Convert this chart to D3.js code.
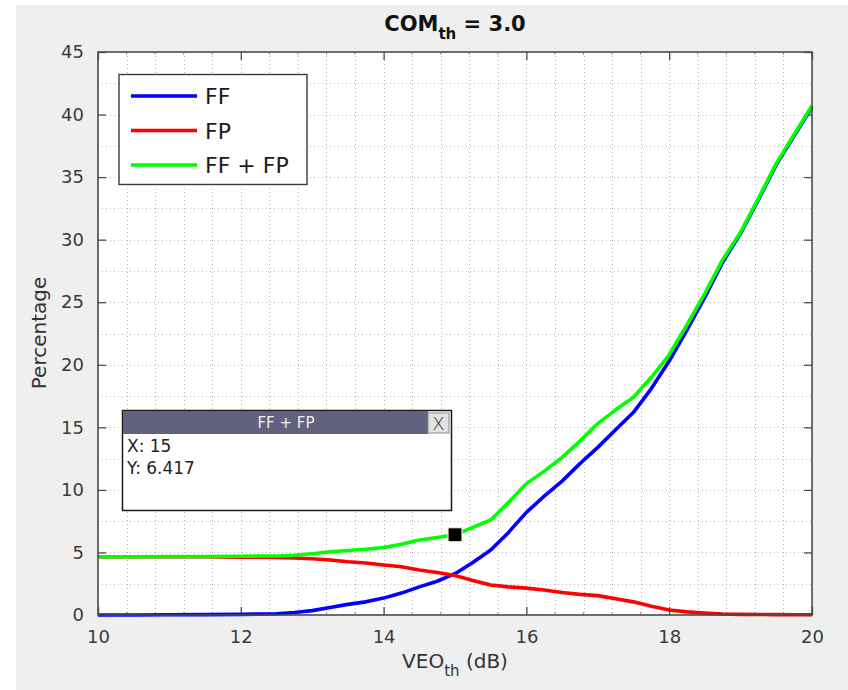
<!DOCTYPE html>
<html>
<head>
<meta charset="utf-8">
<script src="https://cdn.jsdelivr.net/npm/d3@7"></script>
<style>
  html, body { margin: 0; padding: 0; background: #ffffff; }
  svg { display: block; }
  text { font-family: "DejaVu Sans", sans-serif; }
</style>
</head>
<body>
<svg id="chart" width="848" height="690"></svg>
<script>
// Threshold values (dB)
const veo = [10, 10.5, 11, 11.5, 12, 12.5, 12.75, 13, 13.25, 13.5, 13.75, 14, 14.25, 14.5, 14.75, 15,
  15.25, 15.5, 15.75, 16, 16.25, 16.5, 16.75, 17, 17.25, 17.5, 17.75, 18, 18.25, 18.5, 18.75, 19,
  19.25, 19.5, 19.75, 20];
// False fusion rate (%)
const ff = [0, 0, 0.02, 0.03, 0.05, 0.1, 0.2, 0.35, 0.6, 0.85, 1.05, 1.35, 1.75, 2.25, 2.7, 3.3,
  4.2, 5.2, 6.6, 8.2, 9.5, 10.7, 12.1, 13.4, 14.8, 16.2, 18.1, 20.3, 22.8, 25.4, 28.2, 30.5,
  33.2, 36.0, 38.3, 40.6];
// False partition rate (%)
const fp = [4.65, 4.65, 4.65, 4.65, 4.62, 4.6, 4.55, 4.5, 4.4, 4.25, 4.15, 4.0, 3.85, 3.6, 3.4, 3.15,
  2.75, 2.4, 2.25, 2.15, 2.0, 1.8, 1.65, 1.55, 1.3, 1.05, 0.7, 0.4, 0.25, 0.15, 0.08, 0.05,
  0.04, 0.03, 0.02, 0.02];
// Combined rate (%)
const ffPlusFp = [4.65, 4.65, 4.67, 4.68, 4.7, 4.72, 4.78, 4.9, 5.05, 5.15, 5.25, 5.4, 5.65, 6.0, 6.2, 6.417,
  7.0, 7.6, 9.0, 10.5, 11.5, 12.6, 13.9, 15.3, 16.4, 17.4, 19.0, 20.8, 23.2, 25.7, 28.4, 30.6,
  33.3, 36.1, 38.4, 40.7];

const seriesNames = ["FF", "FP", "FF + FP"];
const seriesColors = ["#0000ff", "#ff0000", "#00ff00"];
const seriesValues = [ff, fp, ffPlusFp];

const xTicks = [10, 12, 14, 16, 18, 20];
const yTicks = [0, 5, 10, 15, 20, 25, 30, 35, 40, 45];

// Data cursor point
const cursorX = 15;
const cursorY = 6.417;

const svg = d3.select("#chart");
const W = 848, H = 690;
const m = { left: 98, right: 812, top: 52, bottom: 615 };

// figure background
svg.append("rect").attr("x", 16).attr("y", 5).attr("width", W - 16).attr("height", H - 5)
  .attr("fill", "#efefef");

const x = d3.scaleLinear().domain([10, 20]).range([m.left, m.right]);
const y = d3.scaleLinear().domain([0, 45]).range([m.bottom, m.top]);

// axes area
svg.append("rect").attr("x", m.left).attr("y", m.top)
  .attr("width", m.right - m.left).attr("height", m.bottom - m.top).attr("fill", "#ffffff");

// minor grid
const xMinor = d3.range(10, 20.001, 0.4);
const yMinor = d3.range(0, 45.001, 2.5);
const grid = svg.append("g").attr("stroke", "#b5b5b5").attr("stroke-width", 1)
  .attr("stroke-dasharray", "1,3");
grid.selectAll("line.gx").data(xMinor.slice(1, -1)).join("line").attr("class", "gx")
  .attr("x1", d => Math.round(x(d)) + 0.5).attr("x2", d => Math.round(x(d)) + 0.5)
  .attr("y1", m.top).attr("y2", m.bottom);
grid.selectAll("line.gy").data(yMinor.slice(1, -1)).join("line").attr("class", "gy")
  .attr("y1", d => Math.round(y(d)) + 0.5).attr("y2", d => Math.round(y(d)) + 0.5)
  .attr("x1", m.left).attr("x2", m.right);

// axes with inward ticks
const tickColor = "#4a4a4a";
function styleAxis(g) {
  g.select(".domain").remove();
  g.selectAll(".tick line").attr("stroke", tickColor).attr("stroke-width", 1.3);
  g.selectAll(".tick text").attr("fill", "#3a3a3a").style("font-size", "18px");
}
svg.append("g").attr("transform", `translate(0,${m.bottom})`)
  .call(d3.axisBottom(x).tickValues(xTicks).tickFormat(d3.format("d")).tickSizeInner(-8).tickPadding(15))
  .call(styleAxis);
svg.append("g").attr("transform", `translate(0,${m.top})`)
  .call(d3.axisTop(x).tickValues(xTicks).tickFormat("").tickSizeInner(-8))
  .call(styleAxis);
svg.append("g").attr("transform", `translate(${m.left},0)`)
  .call(d3.axisLeft(y).tickValues(yTicks).tickFormat(d3.format("d")).tickSizeInner(-8).tickPadding(14))
  .call(styleAxis);
svg.append("g").attr("transform", `translate(${m.right},0)`)
  .call(d3.axisRight(y).tickValues(yTicks).tickFormat("").tickSizeInner(-8))
  .call(styleAxis);
// minor ticks on top and bottom
const minorT = svg.append("g").attr("stroke", "#9a9a9a").attr("stroke-width", 1);
xMinor.filter(v => Math.abs(v / 2 - Math.round(v / 2)) > 1e-6).forEach(v => {
  minorT.append("line").attr("x1", x(v)).attr("x2", x(v)).attr("y1", m.top).attr("y2", m.top + 3);
  minorT.append("line").attr("x1", x(v)).attr("x2", x(v)).attr("y1", m.bottom).attr("y2", m.bottom - 3);
});

// series lines
const line = d3.line().x((d, i) => x(veo[i])).y(d => y(d));
const lines = svg.append("g");
seriesValues.forEach((vals, k) => {
  lines.append("path").datum(vals).attr("d", line)
    .attr("fill", "none").attr("stroke", seriesColors[k]).attr("stroke-width", 3.6)
    .attr("stroke-linejoin", "round");
});

// frame
svg.append("rect").attr("x", m.left).attr("y", m.top)
  .attr("width", m.right - m.left).attr("height", m.bottom - m.top)
  .attr("fill", "none").attr("stroke", tickColor).attr("stroke-width", 1.6);

// data cursor marker
svg.append("rect").attr("x", x(cursorX) - 7).attr("y", y(cursorY) - 7)
  .attr("width", 14).attr("height", 14).attr("fill", "#000000")
  .attr("stroke", "#f4eec4").attr("stroke-width", 1.2);

// data cursor tip box
const tip = svg.append("g");
tip.append("rect").attr("x", 122.5).attr("y", 410.5).attr("width", 329).attr("height", 100)
  .attr("fill", "#ffffff").attr("stroke", "#1a1a1a").attr("stroke-width", 1.5);
tip.append("rect").attr("x", 123).attr("y", 411).attr("width", 305).attr("height", 23)
  .attr("fill", "#62627e");
tip.append("text").attr("x", 286).attr("y", 428).attr("text-anchor", "middle")
  .attr("fill", "#f0f0f0").style("font-size", "15px").text(seriesNames[2]);
tip.append("rect").attr("x", 428).attr("y", 413).attr("width", 21).attr("height", 20)
  .attr("fill", "#e2e2e2").attr("stroke", "#8a8a8a").attr("stroke-width", 1);
tip.append("text").attr("x", 438.5).attr("y", 430).attr("text-anchor", "middle")
  .attr("fill", "#333").style("font-size", "18px").style("font-weight", "300").text("X");
tip.append("text").attr("x", 127).attr("y", 452).attr("fill", "#222")
  .style("font-size", "17px").text("X: " + cursorX);
tip.append("text").attr("x", 127).attr("y", 474).attr("fill", "#222")
  .style("font-size", "17px").text("Y: " + cursorY);

// legend
const lg = svg.append("g");
lg.append("rect").attr("x", 119).attr("y", 74.5).attr("width", 188).attr("height", 110)
  .attr("fill", "#ffffff").attr("stroke", "#3a3a3a").attr("stroke-width", 1.4);
seriesNames.forEach((name, k) => {
  const yy = 96 + k * 34.5;
  lg.append("line").attr("x1", 131).attr("x2", 197).attr("y1", yy).attr("y2", yy)
    .attr("stroke", seriesColors[k]).attr("stroke-width", 3.6);
  lg.append("text").attr("x", 205).attr("y", yy + 8).attr("fill", "#1a1a1a")
    .style("font-size", "22px").text(name);
});

// title
const title = svg.append("text").attr("x", 455).attr("y", 31).attr("text-anchor", "middle")
  .attr("fill", "#111").style("font-size", "21px").style("font-weight", "bold");
title.append("tspan").text("COM");
title.append("tspan").attr("dy", 8).style("font-size", "15px").text("th");
title.append("tspan").attr("dy", -8).text(" = 3.0");

// x label
const xl = svg.append("text").attr("x", 455).attr("y", 668).attr("text-anchor", "middle")
  .attr("fill", "#333").style("font-size", "20px");
xl.append("tspan").text("VEO");
xl.append("tspan").attr("dy", 8).style("font-size", "15px").text("th");
xl.append("tspan").attr("dy", -8).text(" (dB)");

// y label
svg.append("text").attr("transform", "translate(46,333) rotate(-90)").attr("text-anchor", "middle")
  .attr("fill", "#333").style("font-size", "20px").text("Percentage");
</script>
</body>
</html>
